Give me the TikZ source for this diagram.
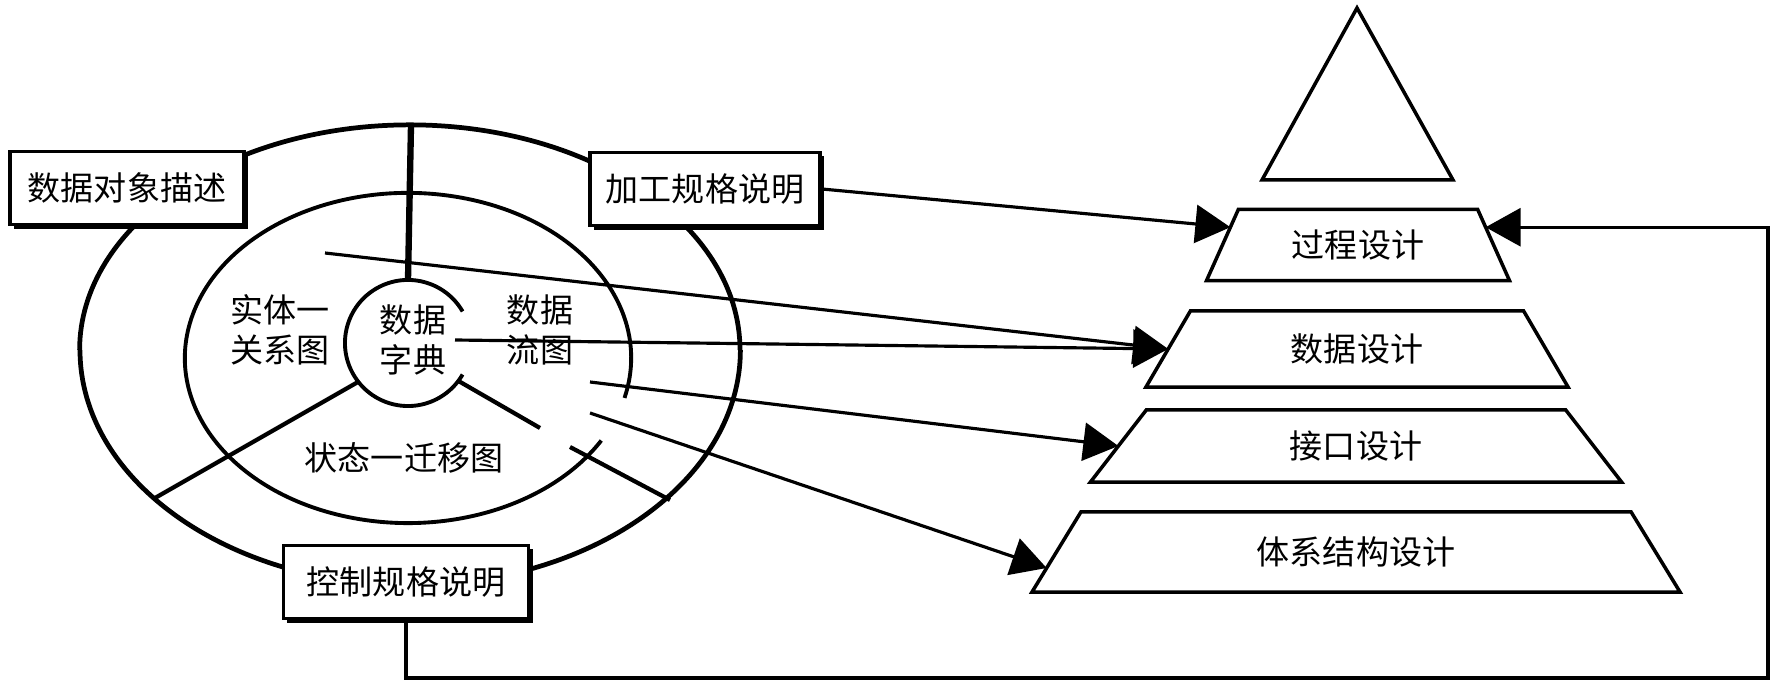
\documentclass[tikz,border=0pt]{standalone}
\usepackage{fontspec}
\newfontfamily\cjk{Noto Sans CJK SC}
\usetikzlibrary{arrows.meta,shapes.geometric,shadows,calc}

\tikzset{
  txt/.style={font=\cjk\fontsize{9.4}{11.5}\selectfont, inner sep=0pt},
  specbox/.style={txt, draw, line width=1pt, fill=white, minimum height=0.73cm,
    general shadow={fill=black, shadow xshift=0.04cm, shadow yshift=-0.04cm}},
  layer/.style={txt, draw, line width=1pt, trapezium, trapezium angle=60,
    trapezium stretches=true, outer sep=0pt},
  arr/.style={-{Triangle[length=0.35cm,width=0.38cm]}, line width=0.9pt},
}

\begin{document}
\begin{tikzpicture}[x=0.01cm, y=0.01cm]
\useasboundingbox (0,0) rectangle (1773,-680);

% Rings
\coordinate (dc) at (408,-343);
\draw[line width=1.35pt] (740,-350) arc[start angle=0, end angle=180, x radius=3.3cm, y radius=2.25cm];
\draw[line width=1.35pt] (80,-350) arc[start angle=180, end angle=360, x radius=3.3cm, y radius=2.35cm];
\draw[line width=1.1pt] ([shift={(408,-358)}]-14:2.23cm and 1.65cm)
  arc[start angle=-14, end angle=330, x radius=2.23cm, y radius=1.65cm];
\draw[line width=1.1pt] ($(dc)+(30:0.63cm)$) arc[start angle=30, end angle=330, radius=0.63cm];

% Spokes
\draw[line width=1.8pt] (411,-125) -- ($(dc)+(90:0.63cm)$);
\draw[line width=1.2pt] ($(dc)+(218:0.63cm)$) -- (155,-498);
\draw[line width=1.2pt] ($(dc)+(-37:0.63cm)$) -- (540,-428);
\draw[line width=1.2pt] (570,-447) -- (670,-500);

% Region labels
\node[txt, align=left] (er) at (280,-330) {实体一\\关系图};
\node[txt, align=center] (dict) at (413,-340) {数据\\字典};
\node[txt, align=left] (dfd) at (540,-330) {数据\\流图};
\node[txt] (std) at (404,-458) {状态一迁移图};

% Spec boxes
\node[specbox, minimum width=2.34cm] (dobj) at (127,-188) {数据对象描述};
\node[specbox, minimum width=2.30cm] (proc) at (705,-189) {加工规格说明};
\node[specbox, minimum width=2.45cm] (ctrl) at (406,-582) {控制规格说明};

% Pyramid
\draw[line width=1pt] (1357,-8) -- (1453,-180) -- (1262,-180) -- cycle;
\node[layer, minimum width=3.03cm, minimum height=0.71cm] (lay1) at (1358,-245) {过程设计};
\node[layer, minimum width=4.24cm, minimum height=0.76cm] (lay2) at (1357,-349) {数据设计};
\node[layer, minimum width=5.31cm, minimum height=0.72cm] (lay3) at (1356,-446) {接口设计};
\node[layer, minimum width=6.50cm, minimum height=0.80cm] (lay4) at (1356,-552) {体系结构设计};

% Arrows
\coordinate (erout) at (325,-253);
\coordinate (dictout) at (455,-340);
\coordinate (dfdout) at (590,-382);
\coordinate (dfdlow) at (590,-413);
\coordinate (fb) at (1768,-678);

\draw[arr] (proc.east) -- ($(lay1.bottom left corner)!0.75!(lay1.top left corner)$);
\draw[arr] (erout) -- ($(lay2.bottom left corner)!0.5!(lay2.top left corner)$);
\draw[arr] (dictout) -- ($(lay2.bottom left corner)!0.5!(lay2.top left corner)$);
\draw[arr] (dfdout) -- ($(lay3.bottom left corner)!0.5!(lay3.top left corner)$);
\draw[arr] (dfdlow) -- ($(lay4.bottom left corner)!0.3!(lay4.top left corner)$);
\draw[arr] (ctrl.south) |- (fb) |- ($(lay1.bottom right corner)!0.75!(lay1.top right corner)$);
\end{tikzpicture}
\end{document}
